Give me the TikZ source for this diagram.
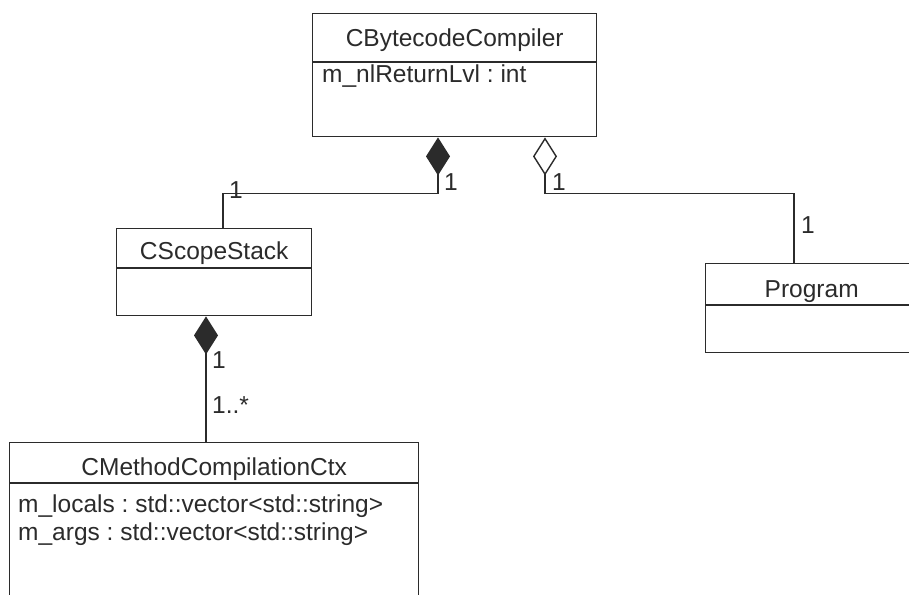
\documentclass[tikz,border=0pt]{standalone}
\usepackage{fontspec}
\setmainfont{Liberation Sans}
\usetikzlibrary{arrows.meta}
\definecolor{umlline}{HTML}{2B2B2B}
\definecolor{umltext}{HTML}{2B2B2B}

\tikzset{
  umlfont/.style={font=\fontsize{24.5bp}{29bp}\selectfont\frenchspacing, text=umltext, inner sep=0pt},
  classbox/.style={draw=umlline, line width=1.4bp, rectangle, anchor=north west, inner sep=0pt},
  divider/.style={draw=umlline, line width=1.4bp},
  classname/.style={umlfont, anchor=base},
  attr/.style={umlfont, anchor=base west},
  mult/.style={umlfont, anchor=center},
  assoc/.style={draw=umlline, line width=1.4bp},
  composition/.style={assoc, {Diamond[length=38bp,width=24bp,fill=umlline]}-},
  aggregation/.style={assoc, {Diamond[open,length=38bp,width=24bp,fill=white]}-},
}

\begin{document}
\begin{tikzpicture}[x=1bp, y=-1bp]
\useasboundingbox (0,0) rectangle (909,595);
\clip (0,0) rectangle (909,595);
\fill[white] (0,0) rectangle (909,595);

% CBytecodeCompiler
\node[classbox, minimum width=284bp, minimum height=123bp] (cbc) at (312,13) {};
\draw[divider] ([yshift=-49bp]cbc.north west) -- ([yshift=-49bp]cbc.north east);
\node[classname] (cbc-name) at ([yshift=-34bp]cbc.north) {CBytecodeCompiler};
\node[attr] (cbc-a1) at ([xshift=10bp,yshift=-70bp]cbc.north west) {m\_nlReturnLvl : int};

% CScopeStack
\node[classbox, minimum width=195bp, minimum height=87bp] (scope) at (116,228) {};
\draw[divider] ([yshift=-40bp]scope.north west) -- ([yshift=-40bp]scope.north east);
\node[classname] (scope-name) at ([yshift=-31bp]scope.north) {CScopeStack};

% Program
\node[classbox, minimum width=212bp, minimum height=89bp] (prog) at (705,263) {};
\draw[divider] ([yshift=-42bp]prog.north west) -- ([yshift=-42bp]prog.north east);
\node[classname] (prog-name) at ([yshift=-34bp]prog.north) {Program};

% CMethodCompilationCtx
\node[classbox, minimum width=409bp, minimum height=200bp] (mctx) at (9,442) {};
\draw[divider] ([yshift=-41bp]mctx.north west) -- ([yshift=-41bp]mctx.north east);
\node[classname] (mctx-name) at ([yshift=-33bp]mctx.north) {CMethodCompilationCtx};
\node[attr] (mctx-a1) at ([xshift=9bp,yshift=-70bp]mctx.north west) {m\_locals : std::vector<std::string>};
\node[attr] (mctx-a2) at ([xshift=9bp,yshift=-98bp]mctx.north west) {m\_args : std::vector<std::string>};

% associations
\draw[composition] ([xshift=126bp]cbc.south west) -- ++(0,56) -| ([xshift=107bp]scope.north west);
\draw[aggregation] ([xshift=233bp]cbc.south west) -- ++(0,56) -| ([xshift=89bp]prog.north west);
\draw[composition] ([xshift=90bp]scope.south west) -- ([xshift=90bp]scope.south west |- mctx.north);

% multiplicities
\node[mult] (m-cbc-scope) at (451,182) {1};
\node[mult] (m-scope) at (236,190) {1};
\node[mult] (m-cbc-prog) at (559,182) {1};
\node[mult] (m-prog) at (808,225) {1};
\node[mult] (m-scope-mctx) at (219,360) {1};
\node[attr] (m-mctx) at (212,413) {1..*};
\end{tikzpicture}
\end{document}
